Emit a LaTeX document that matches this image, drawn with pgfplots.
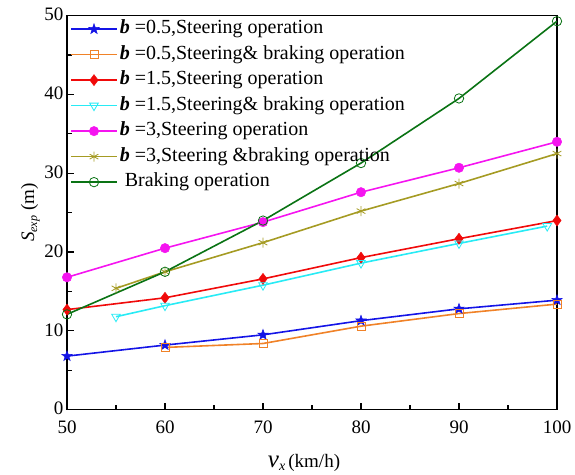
\documentclass[border=0pt]{standalone}
\usepackage{fontspec}
\setmainfont{Liberation Serif}
\usepackage{pgfplots}
\pgfplotsset{compat=1.18}

\definecolor{cBlue}{RGB}{20,20,230}
\definecolor{cOrange}{RGB}{240,130,40}
\definecolor{cRed}{RGB}{240,10,10}
\definecolor{cCyan}{RGB}{40,235,245}
\definecolor{cMag}{RGB}{245,20,240}
\definecolor{cOlive}{RGB}{165,155,35}
\definecolor{cGreen}{RGB}{10,115,20}

% filled five-point star
\pgfdeclareplotmark{fstar}{%
  \pgfpathmoveto{\pgfpointpolar{90}{1.35\pgfplotmarksize}}%
  \pgfpathlineto{\pgfpointpolar{126}{0.55\pgfplotmarksize}}%
  \pgfpathlineto{\pgfpointpolar{162}{1.35\pgfplotmarksize}}%
  \pgfpathlineto{\pgfpointpolar{198}{0.55\pgfplotmarksize}}%
  \pgfpathlineto{\pgfpointpolar{234}{1.35\pgfplotmarksize}}%
  \pgfpathlineto{\pgfpointpolar{270}{0.55\pgfplotmarksize}}%
  \pgfpathlineto{\pgfpointpolar{306}{1.35\pgfplotmarksize}}%
  \pgfpathlineto{\pgfpointpolar{342}{0.55\pgfplotmarksize}}%
  \pgfpathlineto{\pgfpointpolar{18}{1.35\pgfplotmarksize}}%
  \pgfpathlineto{\pgfpointpolar{54}{0.55\pgfplotmarksize}}%
  \pgfpathclose\pgfusepathqfillstroke}

\newcommand{\bb}{\textbf{\textit{b}}}

\begin{document}
\begin{tikzpicture}
\begin{axis}[
  name=ax,
  scale only axis,
  width=490pt, height=394pt,
  xmin=50, xmax=100, ymin=0, ymax=50,
  xtick={50,60,...,100}, ytick={0,10,...,50},
  minor x tick num=1, minor y tick num=1,
  tick pos=left, tick align=inside,
  major tick length=7pt, minor tick length=4.5pt,
  axis line style={line width=1.3pt},
  every tick/.style={line width=1.2pt, black},
  /pgf/number format/assume math mode=true,
  tick label style={font=\fontsize{19}{22}\selectfont},
  xticklabel style={yshift=-8pt},
  yticklabel style={yshift=1pt},
  xlabel={{\fontsize{25}{25}\selectfont\textit{v}}{\fontsize{14}{14}\selectfont\raisebox{-3pt}{\textit{x}}}\,(km/h)},
  xlabel style={font=\fontsize{19}{22}\selectfont, yshift=-13pt, xshift=-8pt},
  ylabel={\textit{S}{\fontsize{12}{12}\selectfont\raisebox{-3pt}{\textit{exp}}} (m)},
  ylabel style={font=\fontsize{19}{22}\selectfont, yshift=-2pt},
  legend style={at={(0,1)}, anchor=north west, draw=none, fill=none,
    font=\fontsize{20}{24}\selectfont, row sep=7pt,
    inner xsep=3pt, inner ysep=4pt,
    nodes={inner xsep=2pt, inner ysep=0pt, text height=14pt, text depth=4.5pt}},
  legend cell align=left,
  legend image code/.code={%
    \draw[mark repeat=2, mark phase=2] plot coordinates {(0pt,0pt) (23pt,0pt) (46pt,0pt)};},
  every axis plot/.append style={line width=1.6pt},
]
\addplot[cBlue, mark=fstar, mark size=4pt, mark options={line width=0.5pt, fill=cBlue}] coordinates {
  (50,6.8) (60,8.2) (70,9.5) (80,11.3) (90,12.8) (100,13.9)
};
\addlegendentry{\bb\ =0.5,Steering operation}

\addplot[cOrange, mark=square, mark size=4pt, mark options={line width=0.8pt}] coordinates {
  (60,7.9) (70,8.4) (80,10.6) (90,12.2) (100,13.4)
};
\addlegendentry{\bb\ =0.5,Steering\& braking operation}

\addplot[cRed, mark=diamond*, mark size=5.5pt, mark options={line width=0.5pt, fill=cRed}] coordinates {
  (50,12.7) (60,14.2) (70,16.6) (80,19.3) (90,21.7) (100,24.0)
};
\addlegendentry{\bb\ =1.5,Steering operation}

\addplot[cCyan, mark=triangle, mark size=5pt, mark options={rotate=180, line width=0.8pt}] coordinates {
  (55,11.8) (60,13.2) (70,15.8) (80,18.6) (90,21.1) (99,23.3)
};
\addlegendentry{\bb\ =1.5,Steering\& braking operation}

\addplot[cMag, mark=*, mark size=4.7pt, mark options={line width=0.5pt, fill=cMag}] coordinates {
  (50,16.8) (60,20.5) (70,23.8) (80,27.6) (90,30.7) (100,34.0)
};
\addlegendentry{\bb\ =3,Steering operation}

\addplot[cOlive, mark=asterisk, mark size=5pt, mark options={line width=0.8pt}] coordinates {
  (55,15.4) (60,17.5) (70,21.2) (80,25.2) (90,28.7) (100,32.5)
};
\addlegendentry{\bb\ =3,Steering \&braking operation}

\addplot[cGreen, mark=o, mark size=4.7pt, mark options={line width=0.8pt}] coordinates {
  (50,12.1) (60,17.5) (70,24.0) (80,31.3) (90,39.5) (100,49.3)
};
\addlegendentry{\ Braking operation}
\end{axis}
\pgfresetboundingbox
\path ([shift={(-67pt,-65pt)}]ax.south west) rectangle ([shift={(18pt,15.7pt)}]ax.north east);
\end{tikzpicture}
\end{document}
